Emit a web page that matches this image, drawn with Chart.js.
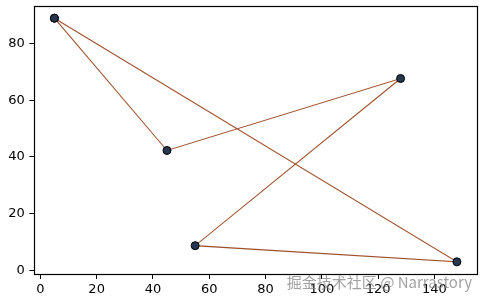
<!DOCTYPE html>
<html>
<head>
<meta charset="utf-8">
<script src="https://cdn.jsdelivr.net/npm/chart.js@4"></script>
<style>
html,body{margin:0;padding:0;background:#fff;}
#wrap{width:482px;height:301px;}
</style>
</head>
<body>
<div id="wrap"><canvas id="c" width="482" height="301"></canvas></div>
<script>
// data (path closes back to the first point)
const xValues = [5, 45, 128, 55, 148, 5];
const yValues = [89, 42.3, 67.7, 8.7, 3, 89];
const xTicks = [0, 20, 40, 60, 80, 100, 120, 140];
const yTicks = [0, 20, 40, 60, 80];
const watermark = '掘金技术社区 @ Narrastory';

const points = xValues.map((x, i) => ({x: x, y: yValues[i]}));
const FONT = {family: 'DejaVu Sans', size: 13};

const framePlugin = {
  id: 'frame',
  afterDraw(chart) {
    const {ctx, chartArea: a} = chart;
    ctx.save();
    ctx.strokeStyle = '#000';
    ctx.lineWidth = 1.2;
    ctx.strokeRect(Math.round(a.left) + 0.5, Math.round(a.top) + 0.5,
                   Math.round(a.right - a.left), Math.round(a.bottom - a.top));
    ctx.font = '15px "Noto Sans CJK SC", "DejaVu Sans"';
    ctx.fillStyle = 'rgba(130,130,130,0.75)';
    ctx.textAlign = 'right';
    ctx.textBaseline = 'middle';
    ctx.fillText(watermark, 472, 282);
    ctx.restore();
  }
};

new Chart(document.getElementById('c'), {
  type: 'scatter',
  data: {
    datasets: [{
      data: points,
      showLine: true,
      borderColor: '#a0522d',
      borderWidth: 1.1,
      pointRadius: 4,
      pointHoverRadius: 4,
      pointBackgroundColor: '#263850',
      pointBorderColor: '#000',
      pointBorderWidth: 1
    }]
  },
  options: {
    responsive: false,
    animation: false,
    devicePixelRatio: 1,
    layout: {padding: {top: 6, right: 4.7, left: 0, bottom: 0}},
    plugins: {legend: {display: false}, tooltip: {enabled: false}},
    scales: {
      x: {
        type: 'linear',
        min: -2.15, max: 155.15,
        afterBuildTicks(s) { s.ticks = xTicks.map(v => ({value: v})); },
        afterFit(s) { s.height = 27; s.paddingLeft = 0; s.paddingRight = 0; },
        grid: {drawOnChartArea: false, drawTicks: true, tickLength: 5, tickColor: '#000', color: '#000'},
        border: {display: false},
        ticks: {color: '#000', font: FONT, padding: 3, maxRotation: 0, autoSkip: false}
      },
      y: {
        type: 'linear',
        min: -1.3, max: 93.3,
        afterBuildTicks(s) { s.ticks = yTicks.map(v => ({value: v})); },
        afterFit(s) { s.width = 34.3; s.paddingTop = 0; s.paddingBottom = 0; },
        grid: {drawOnChartArea: false, drawTicks: true, tickLength: 5, tickColor: '#000', color: '#000'},
        border: {display: false},
        ticks: {color: '#000', font: FONT, padding: 4.5, autoSkip: false}
      }
    }
  },
  plugins: [framePlugin]
});
</script>
</body>
</html>
